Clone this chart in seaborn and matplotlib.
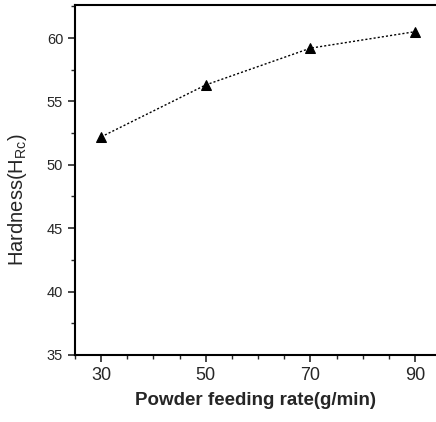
import matplotlib
matplotlib.use("Agg")
import matplotlib.pyplot as plt
import seaborn as sns
import pandas as pd
from matplotlib.ticker import MultipleLocator

feed_rate = [30, 50, 70, 90]
hardness = [52.2, 56.3, 59.2, 60.5]

df = pd.DataFrame({'feed_rate': feed_rate, 'hardness': hardness})

sns.set_style("ticks")
plt.rcParams['font.family'] = ['Liberation Sans', 'DejaVu Sans']
plt.rcParams['mathtext.default'] = 'regular'

fig = plt.figure(figsize=(4.36, 4.22), dpi=100)
ax = fig.add_axes([0.172, 0.159, 0.828, 0.829])

sns.lineplot(data=df, x='feed_rate', y='hardness', ax=ax, color='black',
             linestyle=(0, (1.5, 1.5)), linewidth=1.0, marker='^',
             markersize=7, markeredgecolor='black')

ax.set_xlim(25, 94)
ax.set_ylim(35, 62.6)
ax.set_xticks([30, 50, 70, 90])
ax.xaxis.set_minor_locator(MultipleLocator(5))
ax.yaxis.set_major_locator(MultipleLocator(5))
ax.yaxis.set_minor_locator(MultipleLocator(2.5))

ax.tick_params(axis='x', which='major', length=5, width=1.2, labelsize=13, direction='out')
ax.tick_params(axis='x', which='minor', length=3, width=1.0, direction='out')
ax.tick_params(axis='y', which='major', length=5, width=1.2, labelsize=10.5, direction='out')
ax.tick_params(axis='y', which='minor', length=3, width=1.0, direction='out')

for s in ['left', 'bottom', 'top']:
    ax.spines[s].set_linewidth(1.5)
    ax.spines[s].set_color('black')
ax.spines['right'].set_visible(False)

ax.set_xlabel('Powder feeding rate(g/min)', fontsize=13.5, fontweight='bold', labelpad=6)
ax.set_ylabel('Hardness(H$_{Rc}$)', fontsize=14.5)
ax.yaxis.set_label_coords(-0.128, 0.443)

fig.savefig('out.png', dpi=100)
